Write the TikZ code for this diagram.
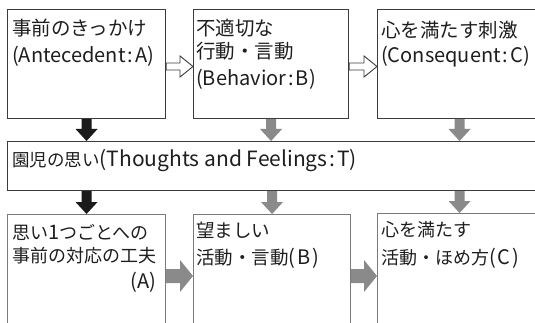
\documentclass[tikz,border=0pt]{standalone}
\usepackage{fontspec}
\setmainfont{Noto Sans CJK JP}
\usetikzlibrary{calc}
\definecolor{txt}{HTML}{1E1E1E}
\definecolor{darkline}{HTML}{3C3C3C}
\definecolor{lightline}{HTML}{7A7A7A}
\definecolor{arrblack}{HTML}{1A1A1A}
\definecolor{arrgray}{HTML}{8A8A8A}
\newcommand\lt[1]{{\fontsize{20}{24}\selectfont #1}}
\newcommand\ltb[1]{{\fontsize{21}{24}\selectfont #1}}
\tikzset{
  topbox/.style={draw=darkline, line width=1.1pt, inner sep=0pt, anchor=north west},
  botbox/.style={draw=lightline, line width=1.1pt, inner sep=0pt, anchor=north west},
  lbl/.style={anchor=north west, inner sep=0pt, align=left, text=txt,
    font=\fontsize{#1}{24}\selectfont},
  harrow/.style args={#1/#2/#3}{to path={let \p1=(\tikztostart), \p2=(\tikztotarget) in
    (\x1,\y1+#1) -- (\x2-#3,\y1+#1) -- (\x2-#3,\y1+#2) -- (\x2,\y1) --
    (\x2-#3,\y1-#2) -- (\x2-#3,\y1-#1) -- (\x1,\y1-#1) -- cycle}},
  varrow/.style args={#1/#2/#3}{to path={let \p1=(\tikztostart), \p2=(\tikztotarget) in
    (\x1+#1,\y1) -- (\x1+#1,\y2+#3) -- (\x1+#2,\y2+#3) -- (\x1,\y2) --
    (\x1-#2,\y2+#3) -- (\x1-#1,\y2+#3) -- (\x1-#1,\y1) -- cycle}},
  hollowarr/.style={draw=darkline, fill=white, line width=0.9pt, line join=miter, harrow={3.5pt/10.5pt/13pt}},
  grayharr/.style={fill=arrgray, draw=none, harrow={7pt/16pt/13pt}},
  blackvarr/.style={fill=arrblack, draw=none, varrow={5pt/11pt/12pt}},
  grayvarr/.style={fill=arrgray, draw=none, varrow={5pt/11pt/12pt}},
}
\begin{document}
\begin{tikzpicture}[x=1pt, y=-1pt]
\useasboundingbox (0,0) rectangle (535,323);
\clip (0,0) rectangle (535,323);
\fill[white] (0,0) rectangle (535,323);
% top boxes
\node[topbox, minimum width=158pt, minimum height=109pt] (A) at (7,9) {};
\node[topbox, minimum width=155pt, minimum height=109pt] (B) at (193,9) {};
\node[topbox, minimum width=164pt, minimum height=109pt] (C) at (377,9) {};
% band
\node[topbox, minimum width=545pt, minimum height=49pt] (T) at (7,141) {};
% bottom boxes
\node[botbox, minimum width=158pt, minimum height=120pt] (A2) at (7,214) {};
\node[botbox, minimum width=157pt, minimum height=120pt] (B2) at (193,214) {};
\node[botbox, minimum width=164pt, minimum height=120pt] (C2) at (377,213) {};
% labels
\node[lbl=19.5] (tA) at ($(A.north west)+(5,10)$) {事前のきっかけ\\[3.3pt]\lt{(Antecedent\kern2pt:\kern2pt A)}};
\node[lbl=19.5] (tB) at ($(B.north west)+(3,10)$) {不適切な\\[-1pt]行動・言動\\[2.8pt]\lt{(Behavior\kern2pt:\kern2pt B)}};
\node[lbl=19.5] (tC) at ($(C.north west)+(4,12)$) {心を満たす刺激\\[1.3pt]\lt{(Consequent\kern2pt:\kern2pt C)}};
\node[lbl=17.5] (tT) at ($(T.north west)+(5,8)$) {園児の思い\ltb{(Thoughts and Feelings\kern2pt:\kern2pt T)}};
\node[lbl=18, text width=144pt] (tA2) at ($(A2.north west)+(5,10)$) {思い\lt{1}つごとへの\\[-1pt]事前の対応の工夫\\[2.2pt]\hspace*{\fill}\lt{(A)}};
\node[lbl=18.5] (tB2) at ($(B2.north west)+(3,8)$) {望ましい\\[3pt]活動・言動\lt{(\kern2pt B\kern2pt)}};
\node[lbl=18] (tC2) at ($(C2.north west)+(4,8)$) {心を満たす\\[4pt]活動・ほめ方\lt{(\kern2pt C\kern2pt)}};
% hollow arrows (top row)
\coordinate (h1) at ($(A.north east)+(0,57.5)$);
\coordinate (h2) at ($(B.north east)+(0,57.5)$);
\draw[hollowarr] (h1) to (B.west);
\draw[hollowarr] (h2) to (C.west);
% gray arrows (bottom row)
\coordinate (g1) at ($(A2.north east)+(0,62)$);
\coordinate (g2) at ($(B2.north east)+(0,62)$);
\path[grayharr] (g1) to (B2.west);
\path[grayharr] (g2) to (C2.west);
% vertical arrows
\path[blackvarr] (A.south) to (A.south |- T.north);
\path[grayvarr] (B.south) to (B.south |- T.north);
\path[grayvarr] (C.south) to (C.south |- T.north);
\path[blackvarr] (A2.north |- T.south) to (A2.north);
\path[grayvarr] (B2.north |- T.south) to (B2.north);
\path[grayvarr] (C2.north |- T.south) to (C2.north);
\end{tikzpicture}
\end{document}
